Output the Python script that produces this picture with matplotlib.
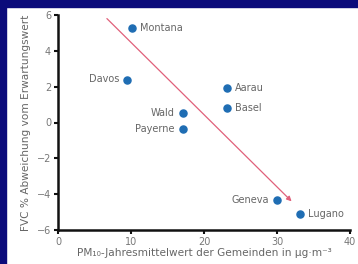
import matplotlib.pyplot as plt
from matplotlib.patches import Rectangle

# Gemeinden und Werte
towns = ["Montana", "Davos", "Wald", "Payerne", "Aarau", "Basel", "Geneva", "Lugano"]
pm10 = [10.1, 9.5, 17.1, 17.1, 23.1, 23.1, 30.0, 33.1]
fvc_dev = [5.25, 2.4, 0.55, -0.35, 1.9, 0.8, -4.3, -5.1]
label_left = [False, True, True, True, False, False, True, False]

trend_start = (6.7, 5.8)
trend_end = (32.0, -4.4)

W, H = 358, 264
fig = plt.figure(figsize=(W / 100, H / 100), dpi=100)
fig.patch.set_facecolor("white")

# dunkelblauer Rahmen oben und links
fig.patches.append(Rectangle((0, 0), 6 / W, 1, transform=fig.transFigure,
                             color="#0b0b7a", zorder=0))
fig.patches.append(Rectangle((0, 1 - 7 / H), 1, 7 / H, transform=fig.transFigure,
                             color="#0b0b7a", zorder=0))

ax = fig.add_axes([58 / W, 1 - 230 / H, (350 - 58) / W, (230 - 15) / H])
ax.set_xlim(0, 40)
ax.set_ylim(-6, 6)
ax.set_xticks([0, 10, 20, 30, 40])
ax.set_yticks([-6, -4, -2, 0, 2, 4, 6])

for s in ["top", "right"]:
    ax.spines[s].set_visible(False)
for s in ["left", "bottom"]:
    ax.spines[s].set_linewidth(1.8)
    ax.spines[s].set_color("#111111")
ax.tick_params(direction="out", length=3, width=1.5, colors="#111111",
               labelcolor="#777777", labelsize=7, pad=2)

txt = "#666666"
ax.annotate("", xy=trend_end, xytext=trend_start,
            arrowprops=dict(arrowstyle="-|>", color="#e0607a", lw=0.9,
                            mutation_scale=7, shrinkA=0, shrinkB=0))

ax.scatter(pm10, fvc_dev, s=26, color="#1f6db3", zorder=3, clip_on=False)
for name, x, y, left in zip(towns, pm10, fvc_dev, label_left):
    if left:
        ax.annotate(name, (x, y), xytext=(-6, 0), textcoords="offset points",
                    ha="right", va="center", fontsize=7, color=txt)
    else:
        ax.annotate(name, (x, y), xytext=(6, 0), textcoords="offset points",
                    ha="left", va="center", fontsize=7, color=txt)

ax.set_xlabel("PM₁₀-Jahresmittelwert der Gemeinden in µg·m⁻³",
              fontsize=7.6, color=txt, labelpad=1)
ax.set_ylabel("FVC % Abweichung vom Erwartungswert", fontsize=7.6, color=txt,
              labelpad=4)

fig.savefig("out.png", dpi=100)
